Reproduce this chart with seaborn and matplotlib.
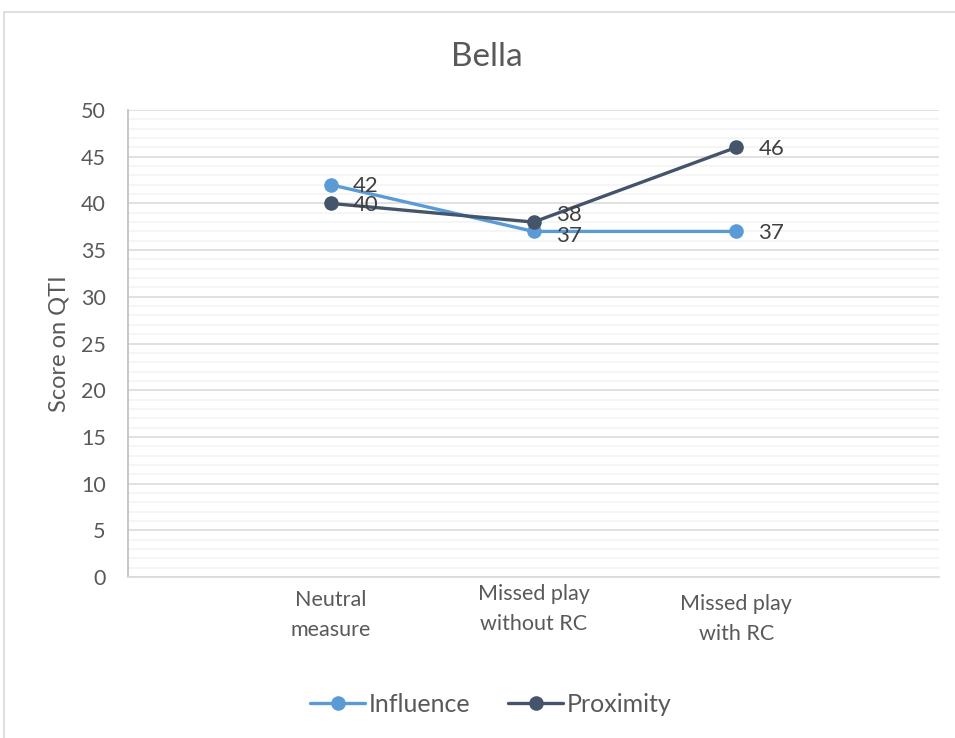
import matplotlib
matplotlib.use("Agg")
import matplotlib.pyplot as plt
import matplotlib.transforms as mtransforms
from matplotlib.patches import Rectangle
from matplotlib.lines import Line2D
import seaborn as sns
import pandas as pd

categories = ["Neutral\nmeasure", "Missed play\nwithout RC", "Missed play\nwith RC"]
influence = [42, 37, 37]
proximity = [40, 38, 46]
series_names = ["Influence", "Proximity"]
colors = ["#5B9BD5", "#44546A"]

sns.set_theme(style="white")
plt.rcParams["font.family"] = ["Lato", "DejaVu Sans"]

df = pd.DataFrame({
    "cat": categories * 2,
    "score": influence + proximity,
    "series": [series_names[0]] * 3 + [series_names[1]] * 3,
})

W, H = 955, 738
fig = plt.figure(figsize=(W / 100, H / 100), dpi=100)
fig.patch.set_facecolor("white")

# chart border
fig.patches.append(Rectangle((4 / W, -0.05), 1.2, 1 - 12 / H + 0.05, transform=fig.transFigure,
                             fill=False, edgecolor="#D9D9D9", linewidth=1.2))

ax = fig.add_axes([128 / W, (H - 577) / H, (939 - 128) / W, (577 - 110) / H])

sns.lineplot(data=df, x="cat", y="score", hue="series", palette=colors, marker="o",
             markersize=10.5, markeredgewidth=0, linewidth=2.4, ax=ax, legend=False, sort=False)

ax.set_xlim(-1, 3)
ax.set_ylim(0, 50)
ax.set_yticks(range(0, 51, 5))
ax.set_yticks(range(0, 51, 1), minor=True)
ax.grid(axis="y", which="major", color="#D9D9D9", linewidth=1.1)
ax.grid(axis="y", which="minor", color="#F2F2F2", linewidth=1.1)
ax.set_axisbelow(True)
for s in ["top", "right"]:
    ax.spines[s].set_visible(False)
ax.spines["left"].set_color("#BFBFBF")
ax.spines["bottom"].set_color("#D9D9D9")
ax.tick_params(axis="y", which="major", length=6, color="#BFBFBF", labelsize=15.5, labelcolor="#595959", pad=10)
ax.tick_params(axis="y", which="minor", length=0)
ax.tick_params(axis="x", length=0, labelsize=15.5, labelcolor="#595959", pad=9)
for lab in ax.get_xticklabels():
    lab.set_linespacing(1.65)
shifts = [0, 4, -3]
for lab, dy in zip(ax.get_xticklabels(), shifts):
    lab.set_transform(lab.get_transform() + mtransforms.ScaledTranslation(0, dy / 72, fig.dpi_scale_trans))

ax.set_xlabel("")
ax.set_ylabel("Score on QTI", fontsize=17, color="#595959", labelpad=8)
fig.text(487 / W, 1 - 57 / H, "Bella", fontsize=24, color="#595959", ha="center", va="center")

# data labels
offsets_inf = [(16, -1), (16, -3), (16, -1)]
offsets_prox = [(16, -1), (16, 5), (16, -1)]
for i, (v, off) in enumerate(zip(influence, offsets_inf)):
    ax.annotate(str(v), (i, v), xytext=off, textcoords="offset points", ha="left", va="center",
                fontsize=16, color="#404040")
for i, (v, off) in enumerate(zip(proximity, offsets_prox)):
    ax.annotate(str(v), (i, v), xytext=off, textcoords="offset points", ha="left", va="center",
                fontsize=16, color="#404040")

handles = [Line2D([], [], color=c, marker="o", markersize=10.5, markeredgewidth=0, linewidth=2.4)
           for c in colors]
fig.legend(handles, series_names, loc="center", bbox_to_anchor=(491 / W, 1 - 704 / H), ncol=2,
           frameon=False, fontsize=18, labelcolor="#595959", handlelength=2.2, handletextpad=0.15,
           columnspacing=1.5)

fig.savefig("out.png", dpi=100)
